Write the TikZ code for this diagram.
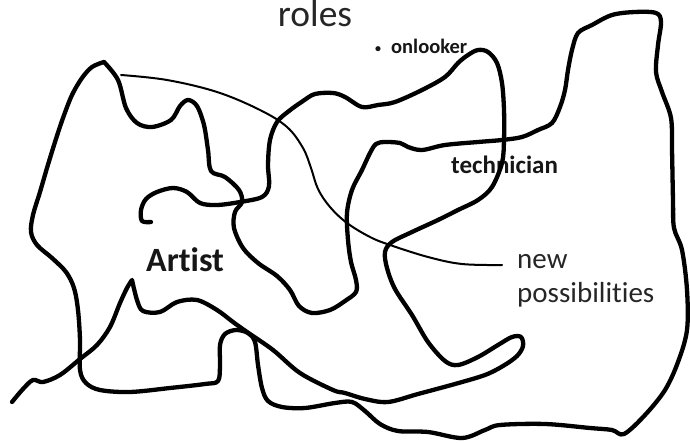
\documentclass[tikz,border=0pt]{standalone}
\usepackage{fontspec}
\setmainfont{Carlito}[Ligatures={NoCommon,NoRequired,NoContextual}]
\definecolor{txtgray}{RGB}{38,38,38}
\definecolor{txtdark}{RGB}{22,22,22}
\begin{document}
\begin{tikzpicture}[x=1pt,y=-1pt,
  scribble/.style={line width=4.3pt, line cap=round, line join=round},
  thinline/.style={line width=2pt, line cap=round},
  plainlabel/.style={inner sep=0pt, text=txtgray},
  boldlabel/.style={inner sep=0pt, text=txtdark, font=\bfseries}]
\fill[white] (0,0) rectangle (690,443);
\useasboundingbox (0,0) rectangle (690,443);

% texts
\node[plainlabel, anchor=base, font=\fontsize{37.5}{44}\selectfont] (roles) at (315,27) {roles};
\node[boldlabel, anchor=base west, font=\bfseries\fontsize{20.5}{24}\selectfont] (onlooker) at (375,54) {{\fontsize{12}{12}\selectfont\raisebox{1.5pt}{\textbullet}}\hspace{10pt}onlooker};
\node[boldlabel, anchor=base west, font=\bfseries\fontsize{25}{29}\selectfont] (technician) at (451,174) {technician};
\node[boldlabel, anchor=base west, font=\bfseries\fontsize{34}{40}\selectfont] (artist) at (146,272) {Artist};
\node[plainlabel, anchor=base west, align=left, font=\fontsize{29}{34}\selectfont] (newposs) at (517,303) {new\\possibilities};

% stroke 1: closed loop (Artist outline merging into the big right shape)
\draw[scribble] plot[smooth, tension=0.55] coordinates {
 (104,62) (92,67) (82,78) (72,95) (63,118) (55,142) (47,168) (40,192) (33,215)
 (31,232) (37,245) (52,258) (66,272) (74,288) (78,310) (80,340) (80,370) (86,383)
 (100,390) (130,392) (170,388) (205,384) (218,381) (220,365) (220,345) (225,334)
 (236,330) (248,333) (255,342) (258,365) (262,388) (268,401) (282,407) (305,408)
 (335,403) (352,402) (365,411) (380,424) (398,431) (428,432) (462,438) (485,430)
 (500,425) (545,424) (590,428) (612,430) (624,434) (645,415) (665,390) (678,362)
 (687,330) (687,290) (682,250) (674,228) (673,200) (672,150) (671,118) (662,92)
 (656,72) (658,45) (661,22) (656,13) (635,12) (612,15) (592,25) (578,33) (572,50)
 (568,70) (565,90) (560,107) (552,123) (538,130) (522,137) (502,140) (478,142)
 (445,145) (422,150) (408,147) (400,143) (385,142) (376,144) (370,153) (362,170)
 (352,190) (347,213) (348,240) (351,262) (356,280) (356,292) (345,301) (330,310)
 (312,313) (299,306) (290,290) (277,276) (258,263) (243,248) (234,228) (235,212)
 (242,202) (239,190) (225,177) (211,171) (208,150) (204,125) (197,106) (188,100)
 (180,106) (171,120) (152,127) (137,123) (126,108) (118,80) (104,62)};

% stroke 2: J hook, technician hook, down to the bottom-left tail
\draw[scribble] plot[smooth, tension=0.55] coordinates {
 (151,222) (142,221) (141,210) (146,199) (157,192) (173,188) (187,192) (200,203)
 (217,205) (240,202) (262,197) (269,186) (268,165) (270,140) (277,122) (289,111)
 (303,101) (315,94) (333,93) (345,97) (362,107) (378,105) (395,102) (422,90)
 (445,77) (458,63) (468,55) (478,50) (488,52) (497,63) (502,83) (504,110)
 (504,140) (502,163) (492,187) (478,200) (458,210) (438,220) (412,232) (392,242)
 (385,252) (387,268) (395,289) (412,315) (428,342) (445,361) (458,365) (478,357)
 (498,345) (512,337) (521,337) (523,346) (517,356) (503,366) (485,375) (455,384)
 (418,394) (388,402) (365,399) (345,393) (333,390) (300,373) (273,350) (247,332)
 (233,322) (217,310) (197,300) (177,302) (160,312) (143,311) (137,300) (132,280)}
 -- plot[smooth, tension=0.55] coordinates {
 (132,280) (127,288) (120,303) (110,327) (97,345) (80,359) (60,375) (43,382)
 (33,380) (23,389) (12,402)};

% thin arc towards "new possibilities"
\draw[thinline] plot[smooth, tension=0.6] coordinates {
 (121,75) (167,80) (217,92) (260,110) (287,127) (303,148) (311,168) (318,189)
 (330,207) (347,223) (370,237) (390,245) (428,257) (462,264) (502,265)};
\end{tikzpicture}
\end{document}
